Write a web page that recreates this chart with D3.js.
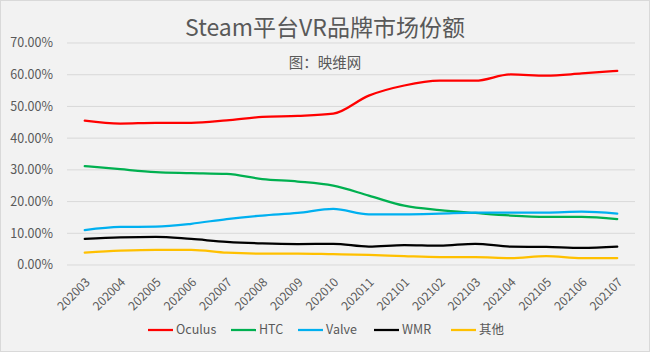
<!DOCTYPE html>
<html lang="zh">
<head>
<meta charset="UTF-8">
<title>Steam平台VR品牌市场份额</title>
<script src="https://d3js.org/d3.v7.min.js"></script>
<style>
  body { margin: 0; background: #fff; }
  svg { display: block; font-family: "Noto Sans CJK SC", "Noto Sans", sans-serif; }
</style>
</head>
<body>
<svg width="650" height="352"></svg>
<script>
var months = ["202003","202004","202005","202006","202007","202008","202009","202010",
              "202011","202101","202102","202103","202104","202105","202106","202107"];
var oculus = [45.5, 44.6, 44.8, 44.8, 45.6, 46.7, 47.0, 47.7, 53.4, 56.6, 58.1, 58.1, 60.1, 59.7, 60.4, 61.2];
var htc    = [31.2, 30.2, 29.3, 29.0, 28.7, 27.1, 26.3, 25.0, 21.9, 18.7, 17.3, 16.4, 15.6, 15.2, 15.2, 14.5];
var valve  = [11.0, 12.0, 12.1, 13.0, 14.5, 15.6, 16.4, 17.7, 16.0, 16.0, 16.2, 16.5, 16.5, 16.5, 16.8, 16.2];
var wmr    = [8.2, 8.7, 8.9, 8.2, 7.3, 6.8, 6.6, 6.7, 5.8, 6.3, 6.1, 6.7, 5.8, 5.7, 5.4, 5.8];
var other  = [3.9, 4.5, 4.8, 4.8, 3.9, 3.6, 3.6, 3.4, 3.2, 2.8, 2.5, 2.5, 2.2, 2.8, 2.2, 2.2];
var yTicks = [0, 10, 20, 30, 40, 50, 60, 70];

var series = [
  {name: "Oculus", values: oculus, color: "#ff0000"},
  {name: "HTC",    values: htc,    color: "#00b050"},
  {name: "Valve",  values: valve,  color: "#00b0f0"},
  {name: "WMR",    values: wmr,    color: "#000000"},
  {name: "其他",   values: other,  color: "#ffc000"}
];

var svg = d3.select("svg");
var textColor = "#595959";

// background + border
svg.append("rect").attr("x", 0.5).attr("y", 0.5).attr("width", 649).attr("height", 351)
   .attr("fill", "#f2f2f2").attr("stroke", "#d9d9d9");

var x = d3.scaleBand().domain(months).range([67, 635]);
var y = d3.scaleLinear().domain([0, 70]).range([265, 43]);

// gridlines
svg.append("g").selectAll("line").data(yTicks).enter().append("line")
   .attr("x1", 67).attr("x2", 635)
   .attr("y1", function(d) { return y(d); }).attr("y2", function(d) { return y(d); })
   .attr("stroke", "#d9d9d9").attr("stroke-width", 1);

// y axis labels
svg.append("g").selectAll("text").data(yTicks).enter().append("text")
   .attr("x", 53).attr("y", function(d) { return y(d); })
   .attr("dy", "0.35em").attr("text-anchor", "end")
   .attr("font-size", 12.5).attr("fill", textColor)
   .text(function(d) { return d.toFixed(2) + "%"; });

// x axis labels
svg.append("g").selectAll("text").data(months).enter().append("text")
   .attr("transform", function(d) {
     return "translate(" + (x(d) + x.bandwidth() / 2 + 3) + ",280) rotate(-45)";
   })
   .attr("text-anchor", "end").attr("dy", "0.35em")
   .attr("font-size", 12).attr("fill", textColor)
   .text(function(d) { return d; });

// lines
var line = d3.line()
  .x(function(d, i) { return x(months[i]) + x.bandwidth() / 2; })
  .y(function(d) { return y(d); })
  .curve(d3.curveMonotoneX);

svg.append("g").selectAll("path").data(series).enter().append("path")
   .attr("d", function(s) { return line(s.values); })
   .attr("fill", "none")
   .attr("stroke", function(s) { return s.color; })
   .attr("stroke-width", 2.25)
   .attr("stroke-linejoin", "round").attr("stroke-linecap", "round");

// title
svg.append("text").attr("x", 325).attr("y", 36).attr("text-anchor", "middle")
   .attr("font-size", 23).attr("fill", textColor).text("Steam平台VR品牌市场份额");
svg.append("text").attr("x", 325).attr("y", 68).attr("text-anchor", "middle")
   .attr("font-size", 14.5).attr("fill", textColor).text("图：映维网");

// legend
var legendX = [148, 231, 298, 374, 451];
var lg = svg.append("g").selectAll("g").data(series).enter().append("g")
   .attr("transform", function(s, i) { return "translate(" + legendX[i] + ",330)"; });
lg.append("line").attr("x1", 0).attr("x2", 25).attr("y1", 0).attr("y2", 0)
   .attr("stroke", function(s) { return s.color; }).attr("stroke-width", 2.25);
lg.append("text").attr("x", 28).attr("dy", "0.35em")
   .attr("font-size", 12.5).attr("fill", textColor)
   .text(function(s) { return s.name; });
</script>
</body>
</html>
